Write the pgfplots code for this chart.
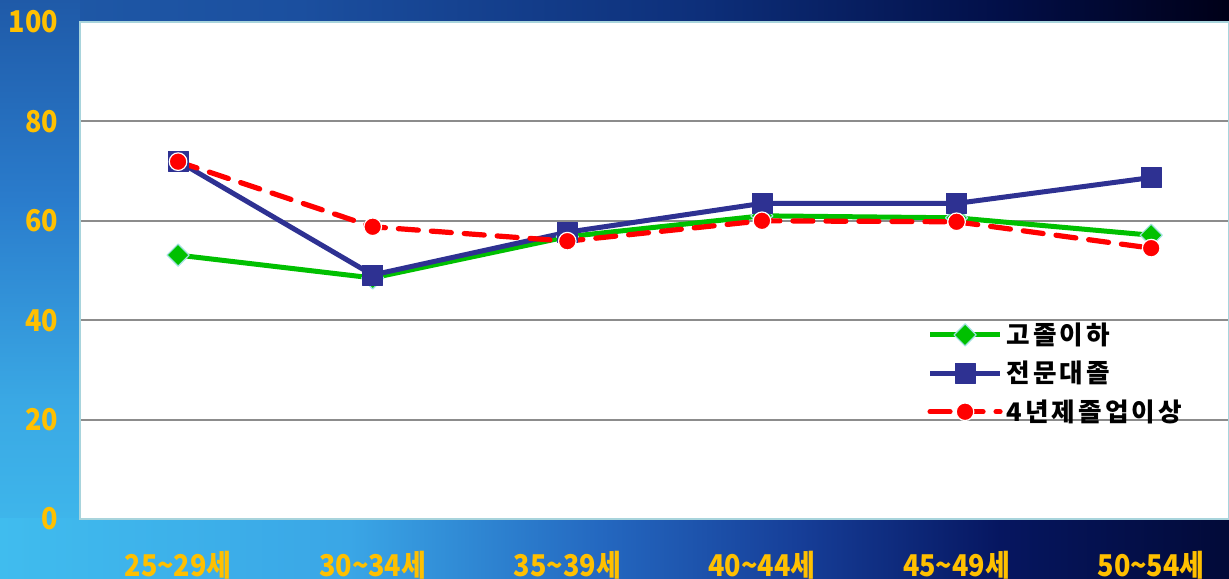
\documentclass[border=0pt]{standalone}
\usepackage{pgfplots}
\pgfplotsset{compat=1.18}
\usepackage{fontspec}
\setmainfont{Noto Sans CJK KR}
\newfontfamily\tickfont[FakeStretch=0.9]{Noto Sans CJK KR}
\newfontfamily\legfont[LetterSpace=12]{Noto Sans CJK KR}
\definecolor{tickyellow}{HTML}{FFC000}
\definecolor{lgreen}{HTML}{00C000}
\definecolor{lblue}{HTML}{2E3192}
\definecolor{lred}{HTML}{FF0000}
\definecolor{gridgray}{HTML}{8C8C8C}
\definecolor{bordercyan}{HTML}{A8D4DC}
\definecolor{markcyan}{HTML}{A0E0E0}
% background colours
\definecolor{tA}{HTML}{1F5AA8}
\definecolor{tB}{HTML}{1B4F9F}
\definecolor{tC}{HTML}{0D2F7A}
\definecolor{tD}{HTML}{020F48}
\definecolor{tE}{HTML}{000018}
\definecolor{bA}{HTML}{40BCEE}
\definecolor{bB}{HTML}{3AA6E6}
\definecolor{bC}{HTML}{2468C0}
\definecolor{bD}{HTML}{163E98}
\definecolor{bE}{HTML}{061660}
\definecolor{bF}{HTML}{020A38}
\definecolor{lA}{HTML}{40BCEE}
\definecolor{lB}{HTML}{3AA8E4}
\definecolor{lC}{HTML}{2A7CCC}
\definecolor{lD}{HTML}{1F5AA8}
\pgfdeclarehorizontalshading{topshade}{100bp}{color(0bp)=(tA); color(25bp)=(tA); color(37.2bp)=(tB); color(53.5bp)=(tC); color(65.7bp)=(tD); color(75bp)=(tE); color(100bp)=(tE)}
\pgfdeclarehorizontalshading{bottomshade}{100bp}{color(0bp)=(bA); color(25bp)=(bA); color(39.2bp)=(bB); color(49.4bp)=(bC); color(57.5bp)=(bD); color(65.7bp)=(bE); color(75bp)=(bF); color(100bp)=(bF)}
\pgfdeclareverticalshading{leftshade}{100bp}{color(0bp)=(lA); color(25bp)=(lA); color(40.4bp)=(lB); color(57.7bp)=(lC); color(75bp)=(lD); color(100bp)=(lD)}
\begin{document}
\begin{tikzpicture}
\useasboundingbox (0,0) rectangle (614.5pt,289pt);
\shade[shading=topshade] (0,270pt) rectangle (614.5pt,289pt);
\shade[shading=leftshade] (0,0) rectangle (40pt,289pt);
\shade[shading=bottomshade] (0,0) rectangle (614.5pt,30pt);
\begin{axis}[
  at={(40pt,29.5pt)}, anchor=south west,
  scale only axis, width=574.5pt, height=248.5pt,
  xmin=-0.504, xmax=5.40, ymin=0, ymax=100,
  xtick={0,1,2,3,4,5},
  xticklabels={{25\textasciitilde29세},{30\textasciitilde34세},{35\textasciitilde39세},{40\textasciitilde44세},{45\textasciitilde49세},{50\textasciitilde54세}},
  ytick={0,20,40,60,80,100},
  /pgf/number format/assume math mode=true,
  ymajorgrids,
  major grid style={color=gridgray, line width=1pt},
  tick style={draw=none},
  axis background/.style={fill=white},
  axis line style={color=bordercyan, line width=1.2pt},
  xticklabel style={font=\tickfont\bfseries\fontsize{15}{15}\selectfont, text=tickyellow, anchor=base, yshift=-28.5pt, inner sep=0pt},
  yticklabel style={font=\tickfont\bfseries\fontsize{15}{15}\selectfont, text=tickyellow, anchor=east, xshift=-10.8pt, inner sep=0pt},
  legend cell align=left,
  legend style={at={(0.7372,0.404)}, anchor=north west, draw=none, fill=none, inner sep=0pt,
    font=\legfont\bfseries\fontsize{12.8}{12.8}\selectfont, row sep=2.9pt},
  legend image code/.code={\draw[mark repeat=2,mark phase=2,#1] plot coordinates {(0pt,0pt)(17.5pt,0pt)(35pt,0pt)};},
]
\addplot[color=lgreen, line width=2.5pt, line join=round, mark=square*, mark size=3.9pt,
  mark options={rotate=45, fill=lgreen, draw=markcyan, line width=0.6pt, solid}]
  coordinates {(0,53.1) (1,48.5) (2,56.8) (3,61.0) (4,60.6) (5,57.1)};
\addlegendentry{고졸이하}
\addplot[color=lblue, line width=2.5pt, line join=round, mark=square*, mark size=5pt,
  mark options={fill=lblue, draw=lblue, line width=0.4pt, solid}]
  coordinates {(0,72.0) (1,49.1) (2,57.7) (3,63.5) (4,63.5) (5,68.7)};
\addlegendentry{전문대졸}
\addplot[color=lred, line width=2.6pt, dash pattern=on 10pt off 6.5pt, line cap=round, mark=*, mark size=4.4pt,
  mark options={fill=lred, draw=white, line width=0.6pt, solid}]
  coordinates {(0,71.9) (1,58.8) (2,55.9) (3,60.0) (4,59.8) (5,54.5)};
\addlegendentry{4년제졸업이상}
\end{axis}
\end{tikzpicture}
\end{document}
